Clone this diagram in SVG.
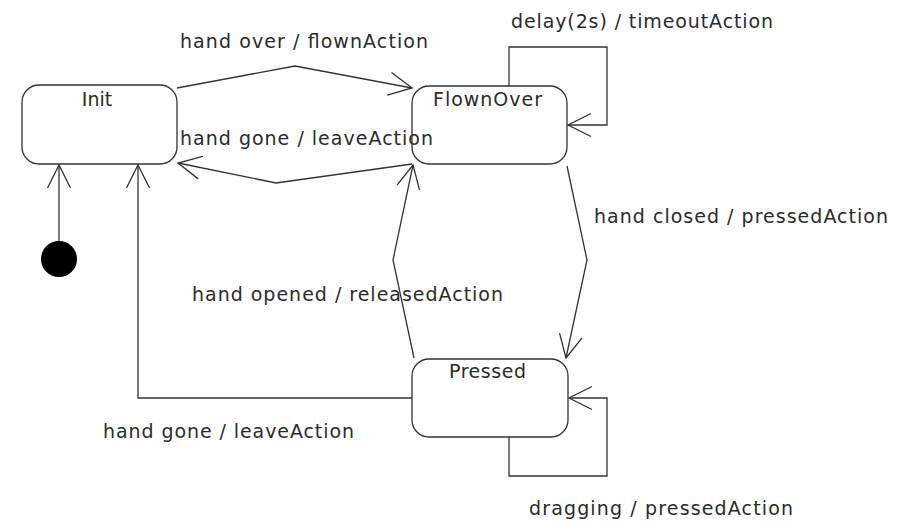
<svg xmlns="http://www.w3.org/2000/svg" width="908" height="522" viewBox="0 0 908 522">
<style>
.st{fill:#fff;stroke:#333;stroke-width:1.3}
.c{fill:none;stroke:#333;stroke-width:1.3}
.t{font-family:"DejaVu Sans",sans-serif;font-size:19px;fill:#2b2b2b}
</style>
<defs>
<marker id="ah" markerUnits="userSpaceOnUse" viewBox="-26 -14 28 28" markerWidth="28" markerHeight="28" refX="0" refY="0" orient="auto" overflow="visible">
<path d="M-23,-11.5 L0,0 L-23,11.5" fill="none" stroke="#333" stroke-width="1.3"/>
</marker>
</defs>
<rect width="908" height="522" fill="#fff"/>
<g id="connectors">
<line class="c" x1="59" y1="241" x2="59" y2="165" marker-end="url(#ah)"/>
<polyline class="c" points="177,88 295,66 412,88" marker-end="url(#ah)"/>
<polyline class="c" points="412,164 276,183 178,163" marker-end="url(#ah)"/>
<polyline class="c" points="509,86 509,47 607,47 607,125 568,125" marker-end="url(#ah)"/>
<polyline class="c" points="567,166 587,260 566,358" marker-end="url(#ah)"/>
<polyline class="c" points="414,358 393,260 413,165" marker-end="url(#ah)"/>
<polyline class="c" points="412,398 138,398 138,165" marker-end="url(#ah)"/>
<polyline class="c" points="509,437 509,476 607,476 607,398 569,398" marker-end="url(#ah)"/>
</g>
<g id="initial">
<circle cx="59" cy="259" r="18" fill="#000"/>
</g>
<g id="Init">
<rect class="st" x="22" y="85" width="155" height="79" rx="17"/>
<text class="t" x="97" y="106" text-anchor="middle">Init</text>
</g>
<g id="FlownOver">
<rect class="st" x="412" y="86" width="155" height="78" rx="17"/>
<text class="t" x="433" y="106" textLength="109" lengthAdjust="spacing">FlownOver</text>
</g>
<g id="Pressed">
<rect class="st" x="412" y="359" width="156" height="78" rx="17"/>
<text class="t" x="449" y="378" textLength="77" lengthAdjust="spacing">Pressed</text>
</g>
<g id="labels">
<text class="t" x="180" y="48" textLength="248" lengthAdjust="spacing">hand over / flownAction</text>
<text class="t" x="180" y="145" textLength="253" lengthAdjust="spacing">hand gone / leaveAction</text>
<text class="t" x="511" y="28" textLength="262" lengthAdjust="spacing">delay(2s) / timeoutAction</text>
<text class="t" x="594" y="223" textLength="294" lengthAdjust="spacing">hand closed / pressedAction</text>
<text class="t" x="192" y="301" textLength="311" lengthAdjust="spacing">hand opened / releasedAction</text>
<text class="t" x="103" y="438" textLength="251" lengthAdjust="spacing">hand gone / leaveAction</text>
<text class="t" x="529" y="515" textLength="264" lengthAdjust="spacing">dragging / pressedAction</text>
</g>
</svg>
